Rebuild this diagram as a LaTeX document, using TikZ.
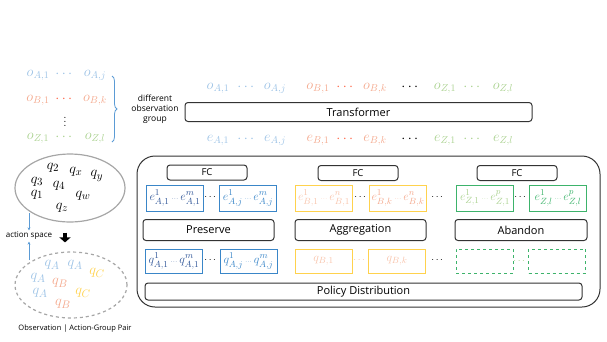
\documentclass[tikz,border=0pt]{standalone}
\usepackage{amsmath}
\usepackage{fontspec}
\setsansfont{Open Sans}
\usepackage{tikz}
\usetikzlibrary{arrows.meta, positioning, shapes.geometric, decorations.pathreplacing, calc}
\usepackage{xcolor}
\definecolor{oblue}{HTML}{9DC3E6}
\definecolor{obrace}{HTML}{5B9BD5}
\definecolor{osalmon}{HTML}{F4A88C}
\definecolor{ored}{HTML}{FF6A4D}
\definecolor{ogreen}{HTML}{A9D18E}
\definecolor{bblue}{HTML}{3A86C8}
\definecolor{dblue}{HTML}{2F5597}
\definecolor{bgold}{HTML}{FFD24D}
\definecolor{lsalmon}{HTML}{F8C3AA}
\definecolor{bgreen}{HTML}{3DB36B}
\definecolor{egray}{HTML}{A6A6A6}
\newcommand{\bdots}{\,{\scriptscriptstyle\cdots}\,}
\tikzset{
  lbox/.style={draw=black!80, line width=1pt, rounded corners=3pt, inner sep=0pt,
               font=\sffamily\fontsize{9.5}{10}\selectfont},
  fcbox/.style={lbox, minimum width=80pt, minimum height=15pt},
  opbox/.style={lbox, minimum width=131pt, minimum height=21pt,
                font=\sffamily\fontsize{11}{12}\selectfont},
  ebox/.style={draw, line width=1pt, minimum width=57pt, minimum height=26pt,
               inner sep=0pt, font=\fontsize{12.5}{13}\selectfont},
  qbox/.style={ebox, minimum height=24pt},
  tok/.style={inner sep=0pt, font=\fontsize{14}{14}\selectfont},
  sdots/.style={inner sep=0pt, font=\fontsize{10}{12}\selectfont},
  setell/.style={ellipse, draw=egray, line width=1.2pt, minimum width=110pt,
                 minimum height=68pt, inner sep=0pt},
  qlab/.style={inner sep=0pt, font=\fontsize{15}{15}\selectfont},
  sarr/.style={-{Stealth[length=3pt, width=3pt]}, thin, obrace},
  bigarr/.style={line width=4pt, -{Triangle[length=5pt, width=11pt]}},
  small/.style={font=\sffamily\fontsize{8.5}{10}\selectfont},
}
\begin{document}
\begin{tikzpicture}[x=1pt, y=-1pt]
  \useasboundingbox (0,0) rectangle (607,341);

  \node[tok, oblue] (lA1) at (38,75) {$o_{A,1}$};
  \node[tok, oblue] (lAd) at (65,74) {$\cdots$};
  \node[tok, oblue] (lAj) at (95,75) {$o_{A,j}$};
  \node[tok, osalmon] (lB1) at (38,100) {$o_{B,1}$};
  \node[tok, ored] (lBd) at (65,99) {$\cdots$};
  \node[tok, osalmon] (lBk) at (95,100) {$o_{B,k}$};
  \node[tok, font=\fontsize{12}{12}\selectfont] (lvd) at (65,119) {$\vdots$};
  \node[tok, ogreen] (lZ1) at (38,138) {$o_{Z,1}$};
  \node[tok, ogreen] (lZd) at (65,137) {$\cdots$};
  \node[tok, ogreen] (lZl) at (95,138) {$o_{Z,l}$};
  \coordinate (br1) at (112,76);
  \coordinate (br2) at (112,142);
  \draw[obrace, thick, decorate, decoration={brace, amplitude=5pt}] (br1) -- (br2);
  \node[small, align=center] (grp) at (155,109) {different\\observation\\group};

  \foreach \y/\s in {88/o, 140/e} {
    \node[tok, oblue] at (218,\y) {$\s_{A,1}$};
    \node[tok, oblue] at (247,\y-1) {$\cdots$};
    \node[tok, oblue] at (275,\y) {$\s_{A,j}$};
    \node[tok, osalmon] at (318,\y) {$\s_{B,1}$};
    \node[tok, ored] at (346,\y-1) {$\cdots$};
    \node[tok, osalmon] at (375,\y) {$\s_{B,k}$};
    \node[tok] at (411,\y-1) {$\cdots$};
    \node[tok, ogreen] at (445,\y) {$\s_{Z,1}$};
    \node[tok, ogreen] at (473,\y-1) {$\cdots$};
    \node[tok, ogreen] at (503,\y) {$\s_{Z,l}$};
  }
  \node[lbox, minimum width=347pt, minimum height=19pt,
        font=\sffamily\fontsize{11}{12}\selectfont] (trans) at (358.5,112) {Transformer};

  \node[setell] (topset) at (70,188) {};
  \node[qlab] (q2) at (53,168) {$q_2$};
  \node[qlab] (qx) at (76,172) {$q_x$};
  \node[qlab] (qy) at (97,176) {$q_y$};
  \node[qlab] (q3) at (37,182) {$q_3$};
  \node[qlab] (q4) at (59,186) {$q_4$};
  \node[qlab] (q1) at (37,195) {$q_1$};
  \node[qlab] (qw) at (83,196) {$q_w$};
  \node[qlab] (qz) at (62,208) {$q_z$};

  \node[setell, dashed, minimum width=112pt, minimum height=66pt] (botset) at (71,285) {};
  \node[qlab, oblue] (qa1) at (52,265) {$q_A$};
  \node[qlab, oblue] (qa2) at (75,265) {$q_A$};
  \node[qlab, bgold] (qc1) at (97,273) {$q_C$};
  \node[qlab, oblue] (qa3) at (38,278) {$q_A$};
  \node[qlab, osalmon] (qb1) at (60,283) {$q_B$};
  \node[qlab, oblue] (qa4) at (40,293) {$q_A$};
  \node[qlab, bgold] (qc2) at (83,293) {$q_C$};
  \node[qlab, osalmon] (qb2) at (63,304) {$q_B$};

  \node[small, font=\sffamily\fontsize{8}{9}\selectfont, inner sep=1.5pt] (aspace) at (29,236) {action space};
  \coordinate (as1) at (29,213);
  \coordinate (as2) at (29,260);
  \draw[sarr] (as1) -- (aspace.north);
  \draw[sarr] (as2) -- (aspace.south);
  \draw[bigarr, shorten <=10pt, shorten >=9pt]
    ($(topset.south)+(-5,0)$) -- ($(botset.north)+(-6,0)$);
  \node[small, font=\sffamily\fontsize{7.5}{9}\selectfont] (cap) at (75,329) {Observation | Action-Group Pair};

  \draw[black!80, line width=1pt, rounded corners=18pt] (137,156) rectangle (600,307);

  \node[fcbox] (fcA) at (207,172.5) {FC};
  \node[fcbox] (fcB) at (358,173) {FC};
  \node[fcbox] (fcZ) at (517,173) {FC};

  \node[ebox, bblue, text=dblue] (eA1) at (175,198) {$e^{1}_{A,1}\bdots e^{m}_{A,1}$};
  \node[sdots] (eAd) at (211,197) {$\cdots$};
  \node[ebox, bblue] (eA2) at (248,198) {$e^{1}_{A,j}\bdots e^{m}_{A,j}$};
  \node[ebox, bgold, text=lsalmon] (eB1) at (324,198) {$e^{1}_{B,1}\bdots e^{n}_{B,1}$};
  \node[sdots] (eBd) at (361,197) {$\cdots$};
  \node[ebox, bgold, text=osalmon] (eB2) at (398,198) {$e^{1}_{B,k}\bdots e^{n}_{B,k}$};
  \node[sdots] (emd) at (438,197) {$\cdots$};
  \node[ebox, bgreen, text=ogreen] (eZ1) at (485,198) {$e^{1}_{Z,1}\bdots e^{p}_{Z,1}$};
  \node[sdots] (eZd) at (521,197) {$\cdots$};
  \node[ebox, bgreen] (eZ2) at (558,198) {$e^{1}_{Z,l}\bdots e^{p}_{Z,l}$};

  \node[opbox] (pres) at (208.5,230) {Preserve};
  \node[opbox] (aggr) at (360.5,230) {Aggregation};
  \node[opbox, minimum width=132pt] (aban) at (521,230) {Abandon};

  \node[qbox, bblue, text=dblue] (qA1) at (174,261) {$q^{1}_{A,1}\bdots q^{m}_{A,1}$};
  \node[sdots] (qAd) at (211,260) {$\cdots$};
  \node[qbox, bblue] (qA2) at (248.5,261) {$q^{1}_{A,j}\bdots q^{m}_{A,j}$};
  \node[qbox, bgold, text=lsalmon] (qB1) at (323.5,261) {$q_{B,1}$};
  \node[sdots, lsalmon] (qBd) at (360,260) {$\cdots$};
  \node[qbox, bgold, text=lsalmon] (qB2) at (397,261) {$q_{B,k}$};
  \node[sdots] (qmd) at (438,260) {$\cdots$};
  \node[qbox, bgreen, dashed] (qZ1) at (484.5,261) {};
  \node[sdots, ogreen] (qZd) at (520,261) {$\cdots$};
  \node[qbox, bgreen, dashed] (qZ2) at (557,261) {};

  \node[lbox, minimum width=437pt, minimum height=17pt,
        font=\sffamily\fontsize{11}{12}\selectfont] (policy) at (363.5,291.5) {Policy Distribution};
\end{tikzpicture}
\end{document}
